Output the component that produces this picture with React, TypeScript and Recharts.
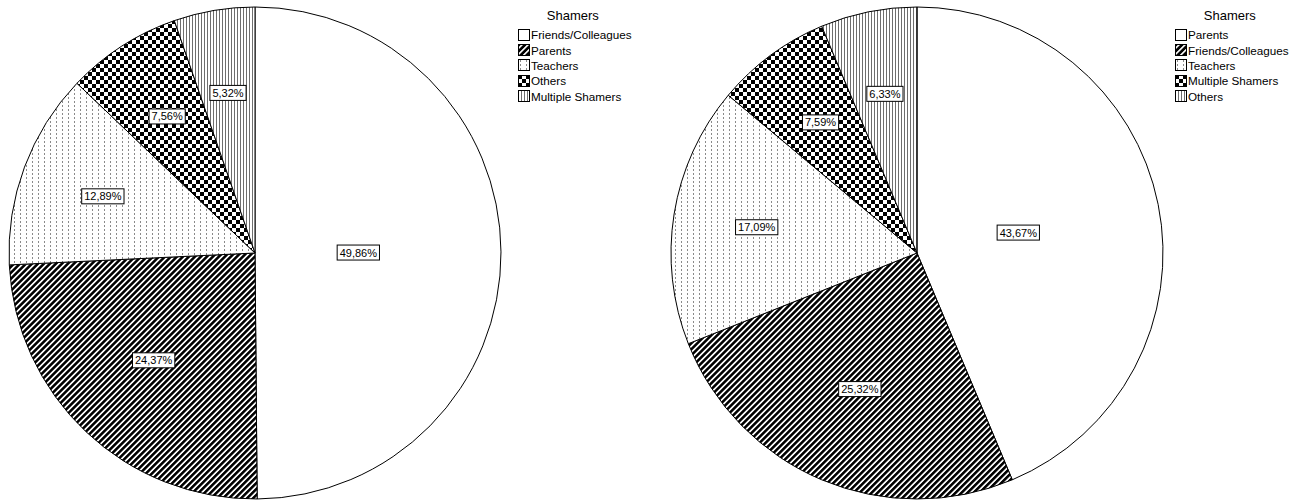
import { Cell, Pie, PieChart } from "recharts";

const leftNames = ["Friends/Colleagues", "Parents", "Teachers", "Others", "Multiple Shamers"];
const leftValues = [49.86, 24.37, 12.89, 7.56, 5.32];

const rightNames = ["Parents", "Friends/Colleagues", "Teachers", "Multiple Shamers", "Others"];
const rightValues = [43.67, 25.32, 17.09, 7.59, 6.33];

const legendTitle = "Shamers";

const fills = ["#ffffff", "url(#pDiag)", "url(#pDots)", "url(#pCheck)", "url(#pVert)"];
const FONT = "'Liberation Sans', Arial, sans-serif";
const RAD = Math.PI / 180;

function fmt(v: number) {
  return v.toFixed(2).replace(".", ",") + "%";
}

function textWidth(s: string) {
  let w = 0;
  for (const ch of s) w += ch === "," ? 3.06 : ch === "%" ? 9.78 : 6.12;
  return w;
}

function Patterns() {
  return (
    <defs>
      <pattern id="pDiag" patternUnits="userSpaceOnUse" width="4.24" height="4.24" patternTransform="rotate(45)">
        <rect width="4.24" height="4.24" fill="#fff" />
        <rect width="2.6" height="4.24" fill="#000" />
      </pattern>
      <pattern id="pDots" patternUnits="userSpaceOnUse" width="6" height="4">
        <rect width="6" height="4" fill="#fff" />
        <rect x="2" y="1" width="1" height="2" fill="#8a8a8a" />
      </pattern>
      <pattern id="pCheck" patternUnits="userSpaceOnUse" width="8" height="8">
        <rect width="8" height="8" fill="#fff" />
        <rect width="4" height="4" fill="#000" />
        <rect x="4" y="4" width="4" height="4" fill="#000" />
      </pattern>
      <pattern id="pVert" patternUnits="userSpaceOnUse" width="3" height="3">
        <rect width="3" height="3" fill="#fff" />
        <rect x="0" width="1" height="3" fill="#6e6e6e" />
      </pattern>
    </defs>
  );
}

function renderLabel(props: any) {
  const { cx, cy, midAngle, outerRadius, percent, value } = props;
  const k = percent > 0.4 ? 0.42 : percent > 0.2 ? 0.6 : 0.66;
  const r = outerRadius * k;
  const x = cx + r * Math.cos(-midAngle * RAD);
  const y = cy + r * Math.sin(-midAngle * RAD);
  const s = fmt(value);
  const w = textWidth(s) + 5;
  const h = 15;
  return (
    <g>
      <rect x={x - w / 2} y={y - h / 2} width={w} height={h} fill="#fff" stroke="#000" strokeWidth={1} />
      <text x={x} y={y + 4} textAnchor="middle" fontFamily={FONT} fontSize={11} fill="#000">
        {s}
      </text>
    </g>
  );
}

function LegendBox({ names, left }: { names: string[]; left: number }) {
  return (
    <div style={{ position: "absolute", left, top: 8, fontFamily: FONT, color: "#000" }}>
      <div style={{ fontSize: 13, textAlign: "center", height: 19, paddingRight: 4 }}>{legendTitle}</div>
      {names.map((n, i) => (
        <div key={n} style={{ display: "flex", alignItems: "center", height: 15.4, fontSize: 11.7 }}>
          <svg width={12} height={12} style={{ marginRight: 1 }}>
            <rect x={0.5} y={0.5} width={11} height={11} fill={fills[i]} stroke="#000" strokeWidth={1} />
          </svg>
          <span>{n}</span>
        </div>
      ))}
    </div>
  );
}

function OnePie({ names, values, width, cx }: { names: string[]; values: number[]; width: number; cx: number }) {
  const data = names.map((name, i) => ({ name, value: values[i] }));
  return (
    <PieChart width={width} height={502} margin={{ top: 0, right: 0, bottom: 0, left: 0 }}>
      <Patterns />
      <Pie
        data={data}
        dataKey="value"
        nameKey="name"
        cx={cx}
        cy={253}
        outerRadius={246}
        startAngle={90}
        endAngle={-270}
        stroke="#000"
        strokeWidth={1}
        label={renderLabel}
        labelLine={false}
        isAnimationActive={false}
      >
        {data.map((d, i) => (
          <Cell key={d.name} fill={fills[i]} />
        ))}
      </Pie>
    </PieChart>
  );
}

export default function App() {
  return (
    <div style={{ width: 1309, height: 502, display: "flex", background: "#fff", position: "relative" }}>
      <style>{`body{margin:0}`}</style>
      <OnePie names={leftNames} values={leftValues} width={655} cx={255} />
      <OnePie names={rightNames} values={rightValues} width={654} cx={262} />
      <LegendBox names={leftNames} left={518} />
      <LegendBox names={rightNames} left={1175} />
    </div>
  );
}
